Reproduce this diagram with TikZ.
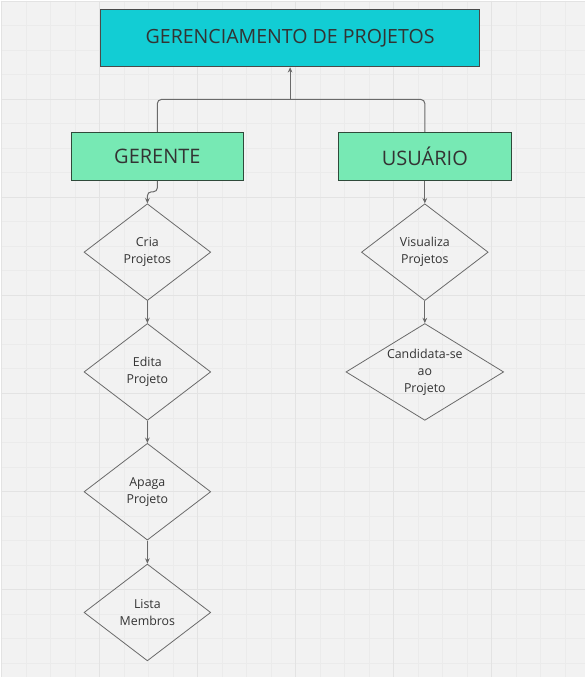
\documentclass[tikz,border=0pt]{standalone}
\usepackage{fontspec}
\setmainfont{Open Sans}
\usetikzlibrary{shapes.geometric,arrows.meta}
\definecolor{bg}{HTML}{F2F2F2}
\definecolor{gminor}{HTML}{EBEBEB}
\definecolor{gmajor}{HTML}{E3E3E3}
\definecolor{titlefill}{HTML}{12CDD4}
\definecolor{greenfill}{HTML}{77E9B4}
\definecolor{greenborder}{HTML}{2F4A3A}
\definecolor{darkborder}{HTML}{4A4A4A}
\definecolor{linec}{HTML}{6A6A6A}
\definecolor{txt}{HTML}{333333}
\tikzset{
  titlebox/.style={draw=darkborder, line width=1pt, fill=titlefill, minimum width=285pt, minimum height=42.75pt, inner sep=0pt, text=txt, font=\fontsize{14.7pt}{17pt}\selectfont},
  rolebox/.style={draw=greenborder, line width=0.75pt, fill=greenfill, minimum width=129.75pt, minimum height=36pt, inner sep=0pt, text=txt, font=\fontsize{15pt}{18pt}\selectfont},
  actbox/.style={diamond, draw=linec, line width=0.6pt, minimum width=95.25pt, minimum height=72.75pt, inner sep=0pt, align=center, text=txt, font=\fontsize{9.3pt}{12.75pt}\selectfont},
  conn/.style={draw=linec, line width=0.75pt},
  arr/.style={conn, -{Stealth[length=4pt, width=3.5pt]}}
}
\begin{document}
\begin{tikzpicture}[x=0.75pt, y=-0.75pt]
\fill[bg] (0,0) rectangle (585,678);
\foreach \i in {0,...,23} {
  \pgfmathsetmacro{\p}{0.9+24.55*\i}
  \draw[gminor, line width=0.75pt] (\p,0) -- (\p,678);
}
\foreach \i in {0,...,27} {
  \pgfmathsetmacro{\p}{0.8+24.55*\i}
  \draw[gminor, line width=0.75pt] (0,\p) -- (585,\p);
}
\foreach \i in {0,...,5} {
  \pgfmathsetmacro{\p}{0.9+98.2*\i}
  \draw[gmajor, line width=1pt] (\p,0) -- (\p,678);
}
\foreach \i in {0,...,6} {
  \pgfmathsetmacro{\p}{0.8+98.2*\i}
  \draw[gmajor, line width=1pt] (0,\p) -- (585,\p);
}
\useasboundingbox (0,0) rectangle (585,678);

\node[titlebox] (title) at (290,37.5) {GERENCIAMENTO DE PROJETOS};
\node[rolebox] (ger) at (157,156) {GERENTE};
\node[rolebox] (usu) at (425,156) {USUÁRIO};

\node[actbox] (cria) at (147,252) {Cria\\Projetos};
\node[actbox] (edita) at (147,372) {Edita\\Projeto};
\node[actbox] (apaga) at (147,492) {Apaga\\Projeto};
\node[actbox] (lista) at (147,613) {Lista\\Membros};
\node[actbox] (vis) at (425,252) {Visualiza\\Projetos};
\node[actbox, shape aspect=1.63, minimum width=118.5pt] (cand) at (425,372) {Candidata-se\\ao\\Projeto};

\coordinate (j) at (290,99);
\draw[conn, rounded corners=3pt] (ger.north) |- (j) -| (usu.north);
\draw[arr] (j) -- (title.south);
\draw[arr, rounded corners=3pt] (ger.south) -- ++(0,11) -| (cria.north);
\draw[arr] (cria.south) -- (edita.north);
\draw[arr] (edita.south) -- (apaga.north);
\draw[arr] (apaga.south) -- (lista.north);
\draw[arr] (usu.south) -- (vis.north);
\draw[arr] (vis.south) -- (cand.north);
\end{tikzpicture}
\end{document}
